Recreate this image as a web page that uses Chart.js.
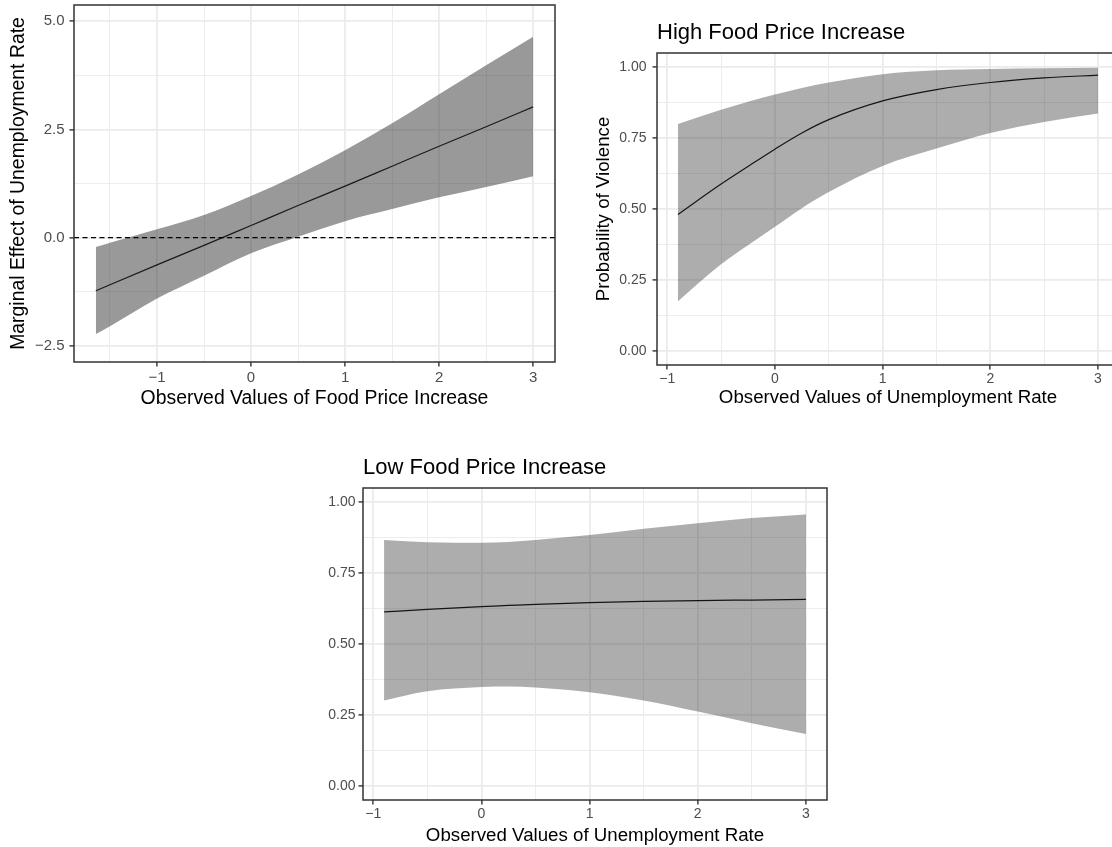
<!DOCTYPE html>
<html>
<head>
<meta charset="utf-8">
<title>Food prices, unemployment and violence</title>
<script src="https://cdn.jsdelivr.net/npm/chart.js@4.4.1/dist/chart.umd.min.js"></script>
<style>
  html, body { margin: 0; padding: 0; background: #ffffff; overflow: hidden; }
  #page { position: relative; width: 1112px; height: 847px; overflow: hidden; background: #ffffff; }
  #page canvas { position: absolute; }
</style>
</head>
<body>
<div id="page">
  <canvas id="marginal" width="560" height="420" style="left:0px;top:0px;"></canvas>
  <canvas id="highFood" width="560" height="420" style="left:560px;top:0px;"></canvas>
  <canvas id="lowFood" width="560" height="440" style="left:280px;top:420px;"></canvas>
</div>
<script>
const FONT = '"Liberation Sans", Arial, Helvetica, sans-serif';

// Marginal effect of the unemployment rate across observed food price increase
const foodPriceValues = [-1.65, -1.5, -1, -0.5, 0, 0.5, 1, 1.5, 2, 2.5, 3];
const marginalEffect  = [-1.23, -1.09, -0.63, -0.18, 0.28, 0.74, 1.19, 1.65, 2.11, 2.56, 3.02];
const marginalLower   = [-2.23, -2.05, -1.41, -0.88, -0.36, 0.02, 0.38, 0.66, 0.93, 1.17, 1.42];
const marginalUpper   = [-0.22, -0.12, 0.19, 0.52, 0.96, 1.46, 2.02, 2.64, 3.31, 3.98, 4.64];
const marginalReference = 0;
const marginalXMajor = [-1, 0, 1, 2, 3];
const marginalXLabels = ['\u22121', '0', '1', '2', '3'];
const marginalXMinor = [-1.5, -0.5, 0.5, 1.5, 2.5];
const marginalYMajor = [-2.5, 0, 2.5, 5];
const marginalYLabels = ['\u22122.5', '0.0', '2.5', '5.0'];
const marginalYMinor = [-1.25, 1.25, 3.75];

// Predicted probability of violence, high food price increase
const unemploymentHigh = [-0.9, -0.5, -0.25, 0, 0.25, 0.5, 1, 1.5, 2, 2.5, 3];
const probHigh      = [0.481, 0.588, 0.650, 0.711, 0.768, 0.815, 0.881, 0.921, 0.946, 0.962, 0.972];
const probHighLower = [0.175, 0.305, 0.372, 0.437, 0.503, 0.560, 0.652, 0.713, 0.768, 0.807, 0.837];
const probHighUpper = [0.800, 0.850, 0.878, 0.904, 0.927, 0.946, 0.975, 0.989, 0.994, 0.996, 0.998];

// Predicted probability of violence, low food price increase
const unemploymentLow = [-0.9, -0.5, 0, 0.25, 0.5, 1, 1.5, 2, 2.5, 3];
const probLow      = [0.613, 0.622, 0.632, 0.636, 0.640, 0.646, 0.650, 0.653, 0.655, 0.657];
const probLowLower = [0.301, 0.333, 0.348, 0.350, 0.347, 0.330, 0.301, 0.262, 0.221, 0.183];
const probLowUpper = [0.867, 0.859, 0.857, 0.860, 0.867, 0.884, 0.906, 0.926, 0.944, 0.957];

const probXMajor = [-1, 0, 1, 2, 3];
const probXLabels = ['\u22121', '0', '1', '2', '3'];
const probXMinor = [-0.5, 0.5, 1.5, 2.5];
const probYMajor = [0, 0.25, 0.5, 0.75, 1];
const probYLabels = ['0.00', '0.25', '0.50', '0.75', '1.00'];
const probYMinor = [0.125, 0.375, 0.625, 0.875];

// Panel frame, optional dashed reference line and left-aligned panel title
const panelFrame = {
  id: 'panelFrame',
  afterDatasetsDraw(chart, args, opts) {
    const { ctx, chartArea: a, scales } = chart;
    ctx.save();
    if (opts.reference !== undefined && opts.reference !== null) {
      const y = scales.y.getPixelForValue(opts.reference);
      ctx.beginPath();
      ctx.setLineDash([5, 3.5]);
      ctx.lineWidth = 1.2;
      ctx.strokeStyle = '#000000';
      ctx.moveTo(a.left, y);
      ctx.lineTo(a.right, y);
      ctx.stroke();
      ctx.setLineDash([]);
    }
    ctx.lineWidth = 1.5;
    ctx.strokeStyle = '#333333';
    ctx.strokeRect(a.left, a.top, a.right - a.left, a.bottom - a.top);
    if (opts.title) {
      ctx.fillStyle = '#000000';
      ctx.font = opts.titleSize + 'px ' + FONT;
      ctx.textAlign = 'left';
      ctx.textBaseline = 'alphabetic';
      ctx.fillText(opts.title, a.left, a.top - opts.titleGap);
    }
    ctx.restore();
  }
};

function points(xs, ys) {
  return xs.map((x, i) => ({ x: x, y: ys[i] }));
}

function axis(o) {
  const near = (a, b) => Math.abs(a - b) < 1e-9;
  const isMajor = v => o.major.some(m => near(m, v));
  const horizontal = o.position === 'bottom';
  const titlePadding = horizontal ? { top: 0, bottom: o.titlePad } : { top: o.titlePad, bottom: 0 };
  return {
    type: 'linear',
    position: o.position,
    min: o.min,
    max: o.max,
    afterBuildTicks: s => {
      s.ticks = o.major.concat(o.minor).sort((a, b) => a - b).map(v => ({ value: v }));
    },
    afterFit: s => {
      if (horizontal) { s.height = o.size; } else { s.width = o.size; }
      // keep the plot panel exactly where the layout padding puts it
      s.paddingTop = 0;
      s.paddingBottom = 0;
      s.paddingLeft = 0;
      s.paddingRight = 0;
    },
    grid: {
      drawTicks: true,
      tickLength: 4.5,
      tickWidth: 1.4,
      color: '#ebebeb',
      lineWidth: c => (c.tick && isMajor(c.tick.value)) ? 1.8 : 0.9,
      tickColor: c => (c.tick && isMajor(c.tick.value)) ? '#333333' : 'rgba(0,0,0,0)'
    },
    border: { display: false },
    ticks: {
      autoSkip: false,
      maxRotation: 0,
      minRotation: 0,
      padding: o.tickPad,
      color: '#4d4d4d',
      font: { family: FONT, size: o.tickSize },
      callback: v => {
        const i = o.major.findIndex(m => near(m, v));
        return i < 0 ? '' : o.labels[i];
      }
    },
    title: o.title ? {
      display: true,
      text: o.title,
      color: '#000000',
      font: { family: FONT, size: o.titleSize },
      padding: titlePadding
    } : { display: false }
  };
}

function panel(id, p) {
  const smooth = 'monotone';
  new Chart(document.getElementById(id), {
    type: 'line',
    data: {
      datasets: [
        {
          data: points(p.xs, p.lower),
          borderWidth: 0,
          borderColor: 'rgba(0,0,0,0)',
          pointRadius: 0,
          fill: false,
          cubicInterpolationMode: smooth
        },
        {
          data: points(p.xs, p.upper),
          borderWidth: 0,
          borderColor: 'rgba(0,0,0,0)',
          backgroundColor: p.band,
          pointRadius: 0,
          fill: '-1',
          cubicInterpolationMode: smooth
        },
        {
          data: points(p.xs, p.mid),
          borderWidth: 1.2,
          borderColor: '#000000',
          pointRadius: 0,
          fill: false,
          cubicInterpolationMode: smooth
        }
      ]
    },
    options: {
      responsive: false,
      animation: false,
      devicePixelRatio: 1,
      events: [],
      layout: { padding: p.padding },
      plugins: {
        legend: { display: false },
        tooltip: { enabled: false },
        panelFrame: {
          reference: p.reference,
          title: p.title,
          titleSize: 22,
          titleGap: 14
        }
      },
      scales: {
        x: axis(p.xAxis),
        y: axis(p.yAxis)
      }
    },
    plugins: [panelFrame]
  });
}

panel('marginal', {
  xs: foodPriceValues, mid: marginalEffect, lower: marginalLower, upper: marginalUpper,
  band: 'rgba(51,51,51,0.5)',
  reference: marginalReference,
  padding: { top: 5, right: 5, left: 0, bottom: 0 },
  xAxis: {
    position: 'bottom', min: -1.8825, max: 3.2325, size: 58, tickPad: 2.5, tickSize: 15,
    major: marginalXMajor, minor: marginalXMinor, labels: marginalXLabels,
    title: 'Observed Values of Food Price Increase', titleSize: 19.4, titlePad: 9.4
  },
  yAxis: {
    position: 'left', min: -2.875, max: 5.375, size: 74, tickPad: 5, tickSize: 15,
    major: marginalYMajor, minor: marginalYMinor, labels: marginalYLabels,
    title: 'Marginal Effect of Unemployment Rate', titleSize: 19.4, titlePad: 7
  }
});

panel('highFood', {
  xs: unemploymentHigh, mid: probHigh, lower: probHighLower, upper: probHighUpper,
  band: 'rgba(51,51,51,0.4)',
  title: 'High Food Price Increase',
  padding: { top: 53, right: 1, left: 0, bottom: 0 },
  xAxis: {
    position: 'bottom', min: -1.095, max: 3.195, size: 55, tickPad: 1, tickSize: 14,
    major: probXMajor, minor: probXMinor, labels: probXLabels,
    title: 'Observed Values of Unemployment Rate', titleSize: 18.7, titlePad: 10.8
  },
  yAxis: {
    position: 'left', min: -0.05, max: 1.05, size: 97, tickPad: 6, tickSize: 14,
    major: probYMajor, minor: probYMinor, labels: probYLabels,
    title: 'Probability of Violence', titleSize: 18.7, titlePad: 32.8
  }
});

panel('lowFood', {
  xs: unemploymentLow, mid: probLow, lower: probLowLower, upper: probLowUpper,
  band: 'rgba(51,51,51,0.4)',
  title: 'Low Food Price Increase',
  padding: { top: 68, right: 13, left: 0, bottom: 0 },
  xAxis: {
    position: 'bottom', min: -1.095, max: 3.195, size: 60, tickPad: 1, tickSize: 14,
    major: probXMajor, minor: probXMinor, labels: probXLabels,
    title: 'Observed Values of Unemployment Rate', titleSize: 18.7, titlePad: 12.8
  },
  yAxis: {
    position: 'left', min: -0.05, max: 1.05, size: 83, tickPad: 3, tickSize: 14,
    major: probYMajor, minor: probYMinor, labels: probYLabels
  }
});
</script>
</body>
</html>
